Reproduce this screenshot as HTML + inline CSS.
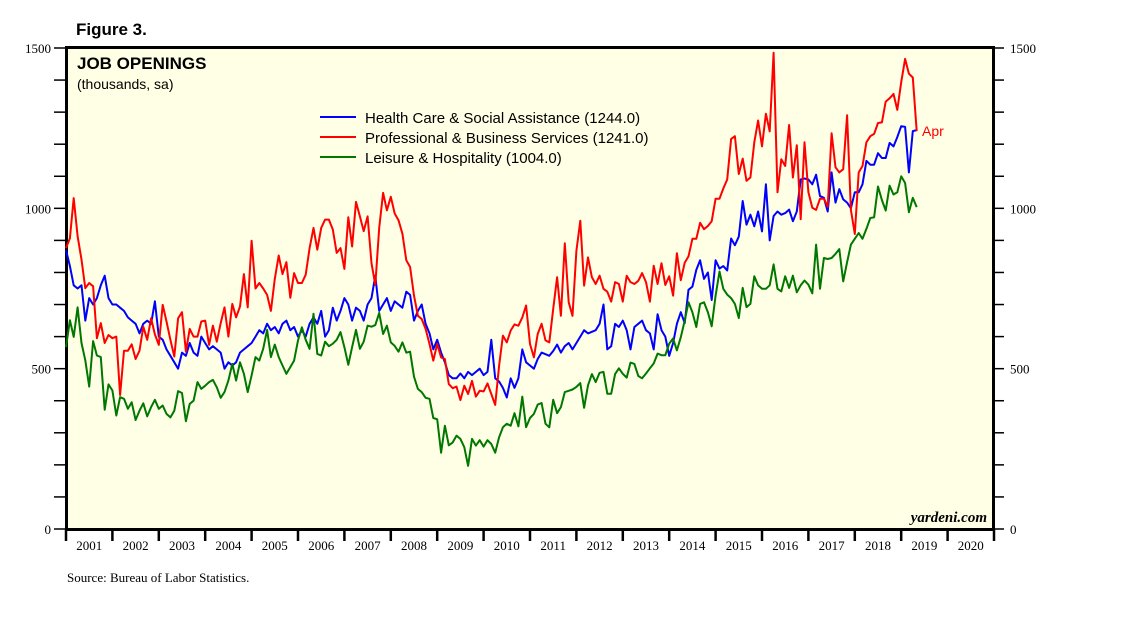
<!DOCTYPE html>
<html><head><meta charset="utf-8"><style>
body{margin:0;background:#fff;width:1138px;height:621px;overflow:hidden}
svg text{font-family:"Liberation Sans",Arial,sans-serif}
.serif{font-family:"Liberation Serif","Times New Roman",serif}
</style></head><body>
<svg id="chart" width="1138" height="621" viewBox="0 0 1138 621" xmlns="http://www.w3.org/2000/svg">
<text x="76" y="35" font-size="17" font-weight="bold">Figure 3.</text>
<rect x="66.5" y="47.5" width="927" height="482" fill="#FFFFE6" stroke="#000" stroke-width="3"/>
<g id="lines"></g>
<g id="axes"></g>
<text x="77" y="69" font-size="17" font-weight="bold">JOB OPENINGS</text>
<text x="77" y="89" font-size="14">(thousands, sa)</text>
<g>
<line x1="320" y1="117" x2="356" y2="117" stroke="#0000FF" stroke-width="2"/>
<text x="365" y="123" font-size="15">Health Care &amp; Social Assistance (1244.0)</text>
<line x1="320" y1="137" x2="356" y2="137" stroke="#FF0000" stroke-width="2"/>
<text x="365" y="143" font-size="15">Professional &amp; Business Services (1241.0)</text>
<line x1="320" y1="157" x2="356" y2="157" stroke="#007700" stroke-width="2"/>
<text x="365" y="163" font-size="15">Leisure &amp; Hospitality (1004.0)</text>
</g>
<text x="922" y="136" font-size="14" fill="#FF0000">Apr</text>
<text class="serif" x="987" y="522" font-size="15" font-style="italic" font-weight="bold" text-anchor="end">yardeni.com</text>
<text class="serif" x="67" y="582" font-size="13">Source: Bureau of Labor Statistics.</text>
</svg>
<script>
const years = [2001,2002,2003,2004,2005,2006,2007,2008,2009,2010,2011,2012,2013,2014,2015,2016,2017,2018,2019,2020];
const yTicks = [0,500,1000,1500];
const health = [870,
820,760,750,760,650,720,700,720,760,790,720,700,
700,690,680,660,650,640,610,640,650,640,710,600,
590,560,540,520,500,550,540,580,550,540,600,580,
560,570,560,550,500,520,510,520,550,560,570,580,
600,620,610,640,620,630,610,640,650,620,630,600,
620,600,640,660,640,680,600,620,690,650,680,720,
700,650,690,680,650,700,720,790,680,700,720,680,
710,700,690,740,730,650,680,700,640,610,560,590,
550,520,480,470,470,485,470,490,480,490,500,480,
490,590,470,460,440,410,470,440,470,560,520,510,
500,530,550,545,540,555,575,550,570,580,560,580,
600,620,610,615,620,640,700,560,570,640,630,650,
620,560,630,640,650,620,610,560,670,620,600,540,
580,640,
676,642,746,756,808,838,780,800,714,838,812,820,806,906,885,912,1023,949,980,944,990,928,1075,900,976,990,980,985,996,960,990,1090,1093,1090,1075,1105,1038,1033,990,1112,1018,1060,1028,1018,1000,1050,1050,1075,1148,1136,1136,1172,1157,1157,1204,1193,1222,1256,1254,1112,1241,1244];
const professional = [876,907,1032,913,840,751,767,757,595,642,580,605,595,600,418,556,556,576,530,556,631,590,657,607,574,699,647,590,538,657,676,553,624,600,600,647,650,574,634,584,642,691,600,702,660,694,795,691,899,750,767,750,730,680,780,853,795,832,721,798,767,767,793,876,939,871,939,965,965,934,861,876,811,972,881,1020,975,929,975,829,761,939,
1048,994,1036,984,963,921,838,817,728,665,655,624,577,525,577,535,530,452,439,444,402,447,421,462,413,431,429,454,421,387,509,603,582,619,638,634,660,697,577,535,608,640,588,582,686,785,665,891,707,665,868,961,759,847,785,764,790,749,740,709,770,764,709,790,770,764,774,798,770,709,821,764,829,761,788,728,860,
776,830,850,905,905,955,935,945,960,1030,1030,1062,1090,1216,1225,1107,1155,1086,1096,1206,1274,1193,1295,1240,1485,1050,1153,1132,1260,1096,1197,966,1206,1050,1002,995,1030,1030,1005,1234,1128,1112,1122,1290,995,920,1112,1132,1206,1225,1232,1266,1268,1333,1343,1357,1307,1393,1466,1420,1408,1241];
const leisure = [567,651,599,691,580,526,444,586,541,536,372,451,432,354,411,406,375,395,340,369,392,351,380,403,375,385,359,348,369,430,424,336,390,400,458,437,447,458,465,442,409,427,463,515,463,520,484,427,479,536,525,562,621,536,575,536,510,484,505,525,588,629,590,562,671,546,541,584,570,578,590,614,567,512,567,621,562,584,634,631,636,674,
608,634,582,571,553,582,550,553,475,437,427,409,406,346,342,238,322,261,270,291,281,255,197,281,260,277,257,277,265,238,286,317,328,322,361,320,413,317,346,359,388,393,328,317,403,361,380,427,431,435,443,455,378,448,483,458,487,490,422,422,483,501,484,472,519,515,477,470,485,501,516,547,542,542,578,594,557,
598,650,707,676,630,702,707,676,632,728,803,749,731,720,702,658,752,692,702,788,760,749,749,760,825,749,741,788,752,790,738,760,775,762,735,887,749,845,842,845,858,873,772,832,887,905,923,905,936,970,972,1068,1026,993,1071,1043,1050,1100,1079,988,1033,1004];

const NS='http://www.w3.org/2000/svg';
const X0=66, YW=46.4, Y0=529, YTOP=48, VMAX=1500;
function xMonth(i){return X0 + i*YW/12;}
function yVal(v){return Y0 - v*(Y0-YTOP)/VMAX;}
function mk(tag,attrs,parent){const e=document.createElementNS(NS,tag);for(const k in attrs)e.setAttribute(k,attrs[k]);parent.appendChild(e);return e;}

const lines=document.getElementById('lines');
[[health,'#0000FF','health-line'],[professional,'#FF0000','professional-line'],[leisure,'#007700','leisure-line']].forEach(([arr,col,name])=>{
  const d=arr.map((v,i)=>(i?'L':'M')+xMonth(i).toFixed(1)+' '+yVal(v).toFixed(1)).join(' ');
  const p=mk('path',{d:d,fill:'none',stroke:col,'stroke-width':2,'stroke-linejoin':'round'},lines);
  
  
});

const axes=document.getElementById('axes');
for(let v=0;v<=VMAX;v+=100){
  const y=yVal(v);
  const tl=mk('line',{x1:54,x2:66,y1:y,y2:y,stroke:'#000','stroke-width':1.5},axes);
  
  
  const tr=mk('line',{x1:994,x2:1004,y1:y,y2:y,stroke:'#000','stroke-width':1.5},axes);
  
  
}
yTicks.forEach(v=>{
  const y=yVal(v);
  const a=mk('text',{x:51,y:y+5,'font-size':13,'text-anchor':'end',class:'serif'},axes);
  a.textContent=v;
  
  
  const b=mk('text',{x:1010,y:y+5,'font-size':13,class:'serif'},axes);
  b.textContent=v;
  
  
});
years.forEach((yr,i)=>{
  const x=X0+i*YW;
  const t=mk('line',{x1:x,x2:x,y1:529,y2:541,stroke:'#000','stroke-width':2.5},axes);
  
  
  const l=mk('text',{x:x+YW/2,y:550,'font-size':13,'text-anchor':'middle',class:'serif'},axes);
  l.textContent=yr;
  
  
});
const te=mk('line',{x1:X0+20*YW,x2:X0+20*YW,y1:529,y2:541,stroke:'#000','stroke-width':2.5},axes);


</script>
</body></html>
